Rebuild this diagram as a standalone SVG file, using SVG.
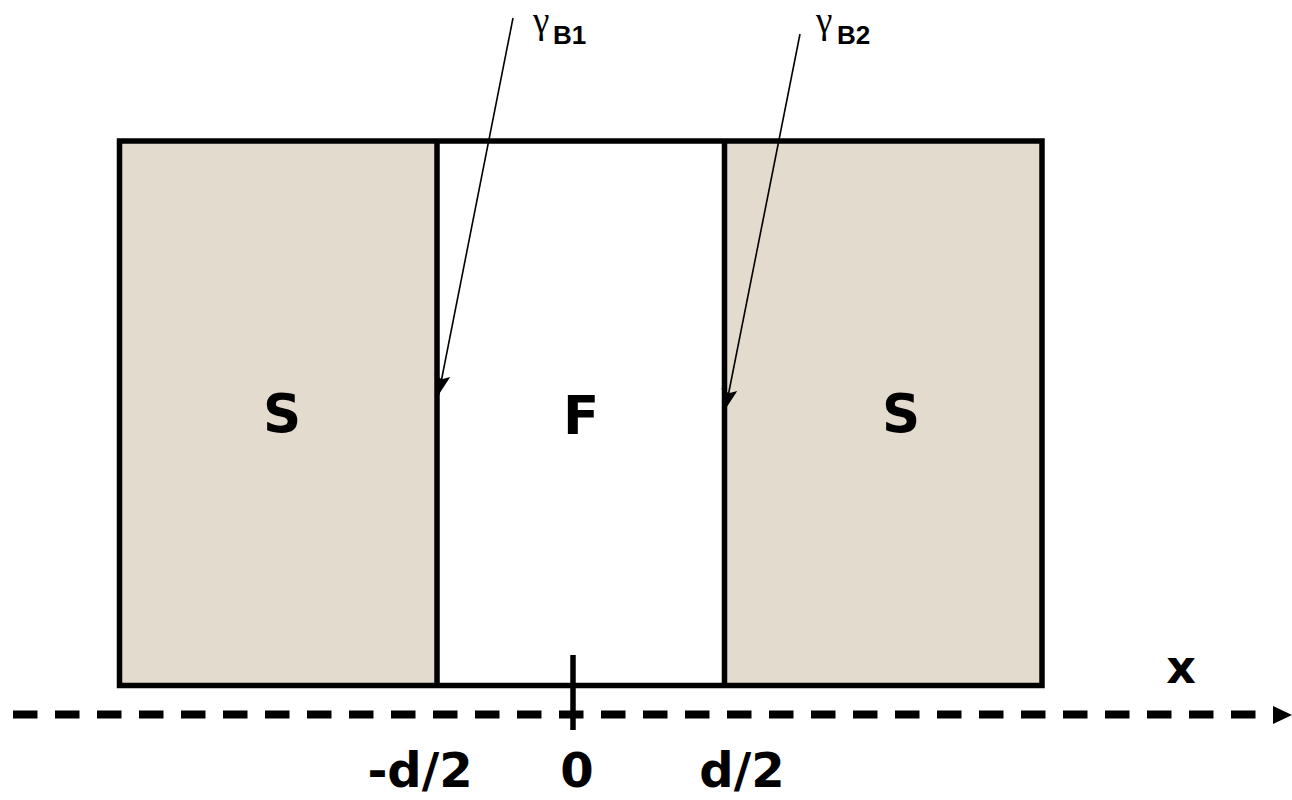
<svg xmlns="http://www.w3.org/2000/svg" width="1292" height="800" viewBox="0 0 1292 800">
<style>
.box{stroke:#000;stroke-width:5.5}
.sand{fill:#e3dbcd}
.lbl{font-family:"DejaVu Sans",Verdana,sans-serif;font-weight:bold;fill:#000}
.sub{font-family:"Liberation Sans",Arial,sans-serif;font-weight:bold;fill:#000}
.ptr{stroke:#000;stroke-width:1.6;fill:none}
.gam{font-family:"Liberation Serif","DejaVu Serif",serif;fill:#000}
</style>
<defs>
<marker id="ah2" viewBox="0 0 10 10" refX="10" refY="5" markerWidth="20" markerHeight="20" markerUnits="userSpaceOnUse" orient="auto"><path d="M0,1 L10,5 L0,9 L2,5 Z" fill="#000"/></marker>
</defs>
<rect width="1292" height="800" fill="#fff"/>
<g id="S-left"><rect class="sand" x="119.5" y="141" width="317.5" height="544.5"/><text class="lbl" x="282" y="432" font-size="53" text-anchor="middle">S</text></g>
<g id="F"><rect x="437" y="141" width="287.5" height="544.5" fill="#fff"/><text class="lbl" x="581" y="434" font-size="53" text-anchor="middle">F</text></g>
<g id="S-right"><rect class="sand" x="724.5" y="141" width="317.5" height="544.5"/><text class="lbl" x="901" y="432" font-size="53" text-anchor="middle">S</text></g>
<g id="frame" fill="none" class="box">
<rect x="119.5" y="141" width="922.5" height="544.5"/>
<line x1="437" y1="141" x2="437" y2="685.5"/>
<line x1="724.5" y1="141" x2="724.5" y2="685.5"/>
</g>
<g id="connectors">
<line x1="13" y1="714.5" x2="1262" y2="714.5" stroke="#000" stroke-width="8" stroke-dasharray="24.5 17.5"/>
<path d="M1273,706 L1292,715 L1273,724 Z" fill="#000"/>
<line x1="573" y1="655" x2="573" y2="730" stroke="#000" stroke-width="5.5"/>
<line class="ptr" x1="513" y1="18" x2="438.5" y2="395" marker-end="url(#ah2)"/>
<line class="ptr" x1="800" y1="34" x2="725.5" y2="409" marker-end="url(#ah2)"/>
</g>
<g id="labels">
<text class="gam" x="533" y="33" font-size="37">γ</text><text class="sub" x="553" y="44" font-size="26">B1</text>
<text class="gam" x="816" y="33" font-size="37">γ</text><text class="sub" x="837" y="44" font-size="26">B2</text>
<text class="lbl" x="420" y="787" font-size="48" text-anchor="middle">-d/2</text>
<text class="lbl" x="577" y="787" font-size="48" text-anchor="middle">0</text>
<text class="lbl" x="742" y="787" font-size="48" text-anchor="middle">d/2</text>
<text class="lbl" x="1181" y="683" font-size="46" text-anchor="middle">x</text>
</g>
</svg>
